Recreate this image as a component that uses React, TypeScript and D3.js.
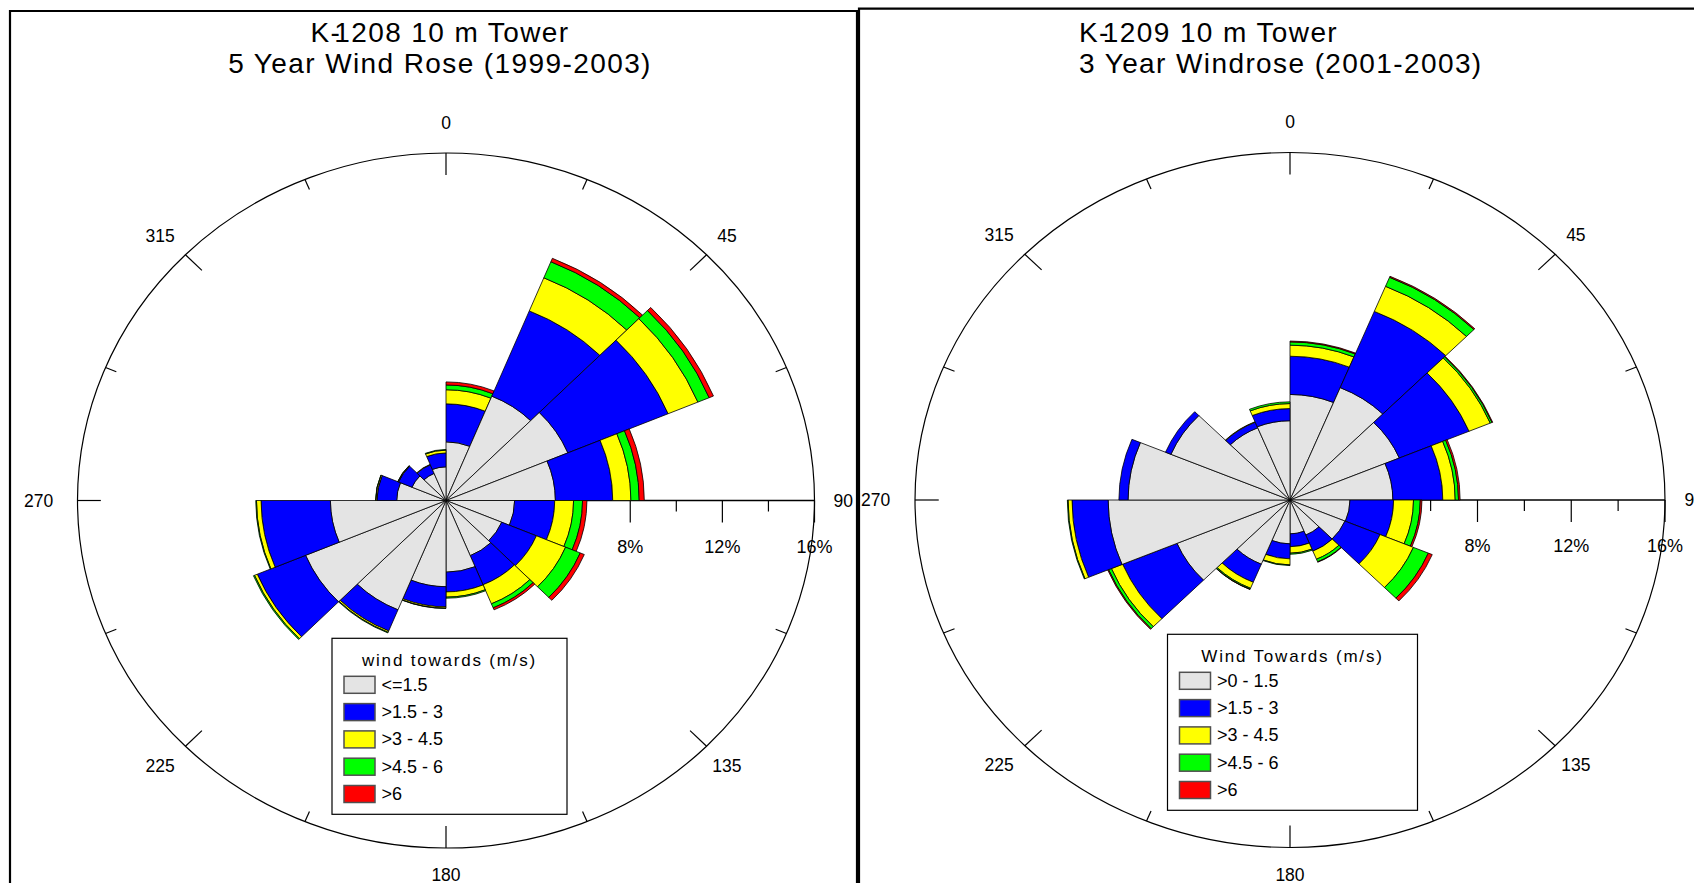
import React from "react";
import * as d3 from "d3";

// ---------- data ----------
const DIRECTIONS = [0, 22.5, 45, 67.5, 90, 112.5, 135, 157.5, 180, 202.5, 225, 247.5, 270, 292.5, 315, 337.5];
const SECTOR_WIDTH = 22.5;
const COMPASS_LABEL_ANGLES = [0, 45, 90, 135, 180, 225, 270, 315];
const COMPASS_LABELS = ["0", "45", "90", "135", "180", "225", "270", "315"];
const RADIAL_TICKS = [2, 4, 6, 8, 10, 12, 14, 16];
const RADIAL_LABELS = [4, 8, 12, 16];
const RADIAL_MAX = 16;

const SPEED_COLORS = ["#e4e4e4", "#0000ff", "#ffff00", "#00ff00", "#ff0000"];

// K-1208 (percent frequency per speed class, by direction sector)
const K1208_TITLE = ["K-1208 10 m Tower", "5 Year Wind Rose (1999-2003)"];
const K1208_LEGEND_TITLE = "wind towards (m/s)";
const K1208_CLASSES = ["<=1.5", ">1.5 - 3", ">3 - 4.5", ">4.5 - 6", ">6"];
const K1208_CALM = [2.7, 5.2, 5.73, 4.75, 2.98, 2.62, 2.75, 3.3, 3.97, 5.45, 6.6, 5.02, 2.14, 1.6, 1.35, 1.55];
const K1208_LOW = [1.75, 4.25, 4.71, 2.49, 1.74, 1.63, 1.45, 0.91, 0.93, 1.05, 2.27, 3.01, 0.86, 0.63, 0.43, 0.64];
const K1208_MID = [0.65, 1.65, 1.4, 0.79, 0.82, 1.37, 0.95, 0.24, 0.06, 0.07, 0.13, 0.2, 0.05, 0.03, 0.02, 0.13];
const K1208_HIGH = [0.22, 0.8, 0.53, 0.36, 0.39, 0.69, 0.2, 0.05, 0.01, 0.03, 0.05, 0.03, 0.01, 0.01, 0.0, 0.03];
const K1208_TOP = [0.14, 0.17, 0.2, 0.22, 0.19, 0.19, 0.1, 0.0, 0.0, 0.0, 0.0, 0.0, 0.0, 0.0, 0.0, 0.0];

// K-1209
const K1209_TITLE = ["K-1209 10 m Tower", "3 Year Windrose (2001-2003)"];
const K1209_LEGEND_TITLE = "Wind Towards (m/s)";
const K1209_CLASSES = [">0 - 1.5", ">1.5 - 3", ">3 - 4.5", ">4.5 - 6", ">6"];
const K1209_CALM = [4.86, 5.6, 5.05, 4.39, 2.56, 2.54, 1.75, 1.56, 2.02, 3.2, 5.22, 7.76, 6.91, 5.5, 3.6, 3.65];
const K1209_LOW = [1.76, 3.8, 3.22, 2.13, 1.86, 1.62, 0.8, 0.59, 0.69, 0.9, 2.51, 1.54, 0.39, 0.25, 0.28, 0.56];
const K1209_MID = [0.51, 1.25, 0.98, 0.53, 0.85, 1.54, 0.4, 0.3, 0.28, 0.3, 0.52, 0.17, 0.0, 0.0, 0.02, 0.23];
const K1209_HIGH = [0.15, 0.45, 0.08, 0.14, 0.29, 0.69, 0.13, 0.05, 0.03, 0.05, 0.13, 0.03, 0.0, 0.0, 0.0, 0.08];
const K1209_TOP = [0.04, 0.05, 0.03, 0.07, 0.07, 0.18, 0.02, 0.0, 0.0, 0.01, 0.04, 0.0, 0.0, 0.0, 0.0, 0.0];

const FONT = "'Liberation Sans', Arial, Helvetica, sans-serif";

type RoseProps = {
  cx: number;
  cy: number;
  rx: number;
  ry: number;
  series: number[][];
  classes: string[];
  legendTitle: string;
  legend: { x: number; y: number; w: number; h: number };
  title: string[];
  titleX: number;
  titleAnchor: "start" | "middle";
};

function WindRose(p: RoseProps) {
  const { cx, cy, rx, ry } = p;
  const r = d3.scaleLinear().domain([0, RADIAL_MAX]).range([0, ry]);
  const kx = rx / ry;
  const rad = (d: number) => (d * Math.PI) / 180;
  const keys = p.classes.map((_, j) => "s" + j);
  const rows = DIRECTIONS.map((dir, i) => {
    const o: any = { dir };
    keys.forEach((k, j) => (o[k] = p.series[j][i]));
    return o;
  });
  const stacked = d3.stack<any>().keys(keys)(rows);
  const arc = d3.arc<any>();

  const R = r(RADIAL_MAX);
  const labelR = r(17.25);

  return (
    <g>
      {/* title */}
      {p.title.map((line, i) => (
        <text
          key={"t" + i}
          x={p.titleX}
          y={i === 0 ? 41.5 : 73}
          fontSize={28}
          letterSpacing={1.4}
          textAnchor={p.titleAnchor}
          fontFamily={FONT}
          fill="#000"
        >
          {i === 0 ? (
            <>
              <tspan>{line.slice(0, 2)}</tspan>
              <tspan dx={-7}>{line.slice(2)}</tspan>
            </>
          ) : (
            line
          )}
        </text>
      ))}

      <g transform={`translate(${cx},${cy}) scale(${kx},1)`}>
        {/* outer ring */}
        <ellipse cx={0} cy={0} rx={R} ry={R} fill="none" stroke="#000" strokeWidth={1.2} vectorEffect="non-scaling-stroke" />
        {/* compass ticks */}
        {DIRECTIONS.filter((a) => a !== 90).map((a) => {
          const L = a % 45 === 0 ? 22 : 11;
          const s = Math.sin(rad(a));
          const c = Math.cos(rad(a));
          return (
            <line
              key={"ct" + a}
              x1={s * R}
              y1={-c * R}
              x2={s * (R - L)}
              y2={-c * (R - L)}
              stroke="#000"
              strokeWidth={1.2}
              vectorEffect="non-scaling-stroke"
            />
          );
        })}
        {/* radial axis */}
        <line x1={0} y1={0} x2={R} y2={0} stroke="#000" strokeWidth={1.3} vectorEffect="non-scaling-stroke" />
        {RADIAL_TICKS.map((v) => (
          <line
            key={"rt" + v}
            x1={r(v)}
            y1={0}
            x2={r(v)}
            y2={v % 4 === 0 ? 22 : 11}
            stroke="#000"
            strokeWidth={1.2}
            vectorEffect="non-scaling-stroke"
          />
        ))}
      </g>

      {/* radial labels */}
      {RADIAL_LABELS.map((v) => (
        <text key={"rl" + v} x={cx + r(v) * kx} y={cy + 52} fontSize={18} textAnchor="middle" fontFamily={FONT}>
          {v + "%"}
        </text>
      ))}

      {/* bars */}
      <g transform={`translate(${cx},${cy}) scale(${kx},1)`}>
        {DIRECTIONS.map((dir, i) =>
          stacked.map((layer, j) => {
            const seg = layer[i];
            if (seg[1] - seg[0] <= 0.0001) return null;
            const d = arc({
              innerRadius: r(seg[0]),
              outerRadius: r(seg[1]),
              startAngle: rad(dir),
              endAngle: rad(dir + SECTOR_WIDTH),
            });
            return (
              <path
                key={"b" + i + "_" + j}
                d={d || ""}
                fill={SPEED_COLORS[j]}
                stroke="#000"
                strokeWidth={0.8}
                strokeLinejoin="round"
                vectorEffect="non-scaling-stroke"
              />
            );
          })
        )}
      </g>

      {/* compass labels */}
      {COMPASS_LABEL_ANGLES.map((a, i) => {
        const s = Math.sin(rad(a));
        const c = Math.cos(rad(a));
        const extra = s < -0.01 ? 10 * s * s : 0;
        const up = c > 0.99 ? 3 : 0;
        return (
          <text
            key={"cl" + a}
            x={cx + labelR * kx * s - extra}
            y={cy - labelR * c - up}
            dy="0.35em"
            fontSize={17.5}
            textAnchor="middle"
            fontFamily={FONT}
          >
            {COMPASS_LABELS[i]}
          </text>
        );
      })}

      {/* legend */}
      <g transform={`translate(${p.legend.x},${p.legend.y})`}>
        <rect x={0} y={0} width={p.legend.w} height={p.legend.h} fill="#fff" stroke="#000" strokeWidth={1.2} />
        <text x={p.legend.w / 2} y={28} fontSize={17} letterSpacing={1.8} textAnchor="middle" fontFamily={FONT}>
          {p.legendTitle}
        </text>
        {p.classes.map((c, j) => (
          <g key={"lg" + j} transform={`translate(0,${38 + j * 27.3})`}>
            <rect x={12} y={0} width={31} height={17} fill={SPEED_COLORS[j]} stroke="#505050" strokeWidth={1.5} />
            <text x={49.5} y={14.5} fontSize={18} fontFamily={FONT}>
              {c}
            </text>
          </g>
        ))}
      </g>
    </g>
  );
}

export default function App() {
  const s1208 = [K1208_CALM, K1208_LOW, K1208_MID, K1208_HIGH, K1208_TOP];
  const s1209 = [K1209_CALM, K1209_LOW, K1209_MID, K1209_HIGH, K1209_TOP];
  return (
    <svg
      width={1694}
      height={883}
      viewBox="0 0 1694 883"
      style={{ position: "absolute", left: 0, top: 0, display: "block", background: "#fff" }}
    >
      <rect x={0} y={0} width={1694} height={883} fill="#fff" />
      <WindRose
        cx={446}
        cy={500.5}
        rx={368.5}
        ry={347.5}
        series={s1208}
        classes={K1208_CLASSES}
        legendTitle={K1208_LEGEND_TITLE}
        legend={{ x: 332, y: 638.3, w: 235, h: 176 }}
        title={K1208_TITLE}
        titleX={440}
        titleAnchor="middle"
      />
      <WindRose
        cx={1290}
        cy={500}
        rx={375}
        ry={347.5}
        series={s1209}
        classes={K1209_CLASSES}
        legendTitle={K1209_LEGEND_TITLE}
        legend={{ x: 1167.5, y: 634.3, w: 250, h: 176 }}
        title={K1209_TITLE}
        titleX={1079}
        titleAnchor="start"
      />
      {/* panel frames */}
      <path d="M10,883 V11 H857 V883" fill="none" stroke="#000" strokeWidth={2.2} />
      <path d="M859,883 V8.7 H1700" fill="none" stroke="#000" strokeWidth={2.2} />
    </svg>
  );
}
